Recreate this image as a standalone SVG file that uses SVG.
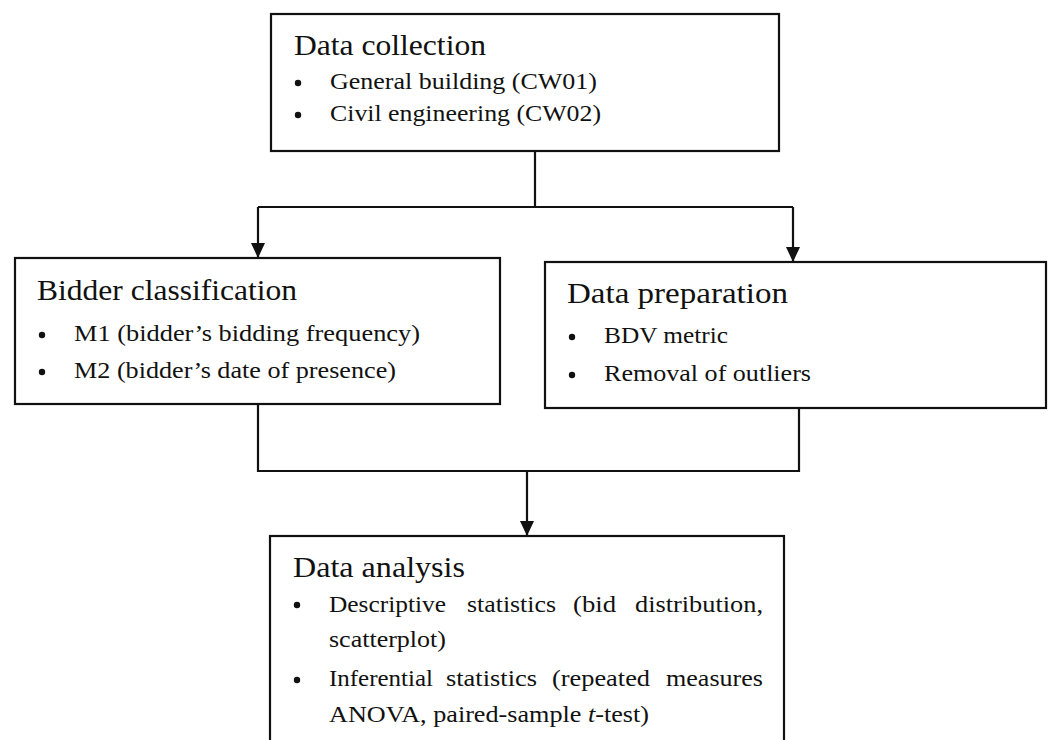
<svg xmlns="http://www.w3.org/2000/svg" width="1051" height="740" viewBox="0 0 1051 740">
<style>
.box{fill:#fff;stroke:#111;stroke-width:2.2}
.ln{fill:none;stroke:#111;stroke-width:2.2}
.t{font-family:"Liberation Serif","Times New Roman",serif;font-size:30px;fill:#111}
.i{font-family:"Liberation Serif","Times New Roman",serif;font-size:22.5px;fill:#111}
.b{fill:#111}
</style>
<defs>
<marker id="ah" markerUnits="userSpaceOnUse" markerWidth="16" markerHeight="14" refX="15" refY="7" orient="auto">
<path d="M0,0 L15,7 L0,14 z" fill="#111"/>
</marker>
</defs>
<rect width="1051" height="740" fill="#fff"/>
<g id="connectors">
<path class="ln" d="M535,151 V207"/>
<path class="ln" d="M258,207 H793"/>
<path class="ln" d="M258,207 V258" marker-end="url(#ah)"/>
<path class="ln" d="M793,207 V262" marker-end="url(#ah)"/>
<path class="ln" d="M258,404 V471 H799 V408"/>
<path class="ln" d="M527,471 V536" marker-end="url(#ah)"/>
</g>
<g id="data-collection">
<rect class="box" x="271" y="14" width="508" height="137"/>
<text class="t" x="294" y="55" textLength="192" lengthAdjust="spacingAndGlyphs">Data collection</text>
<circle class="b" cx="298" cy="83" r="3.2"/>
<text class="i" x="330" y="89" textLength="267" lengthAdjust="spacingAndGlyphs">General building (CW01)</text>
<circle class="b" cx="298" cy="115" r="3.2"/>
<text class="i" x="330" y="121" textLength="271" lengthAdjust="spacingAndGlyphs">Civil engineering (CW02)</text>
</g>
<g id="bidder-classification">
<rect class="box" x="15" y="258" width="485" height="146"/>
<text class="t" x="37" y="300" textLength="260" lengthAdjust="spacingAndGlyphs">Bidder classification</text>
<circle class="b" cx="42" cy="335" r="3.2"/>
<text class="i" x="74" y="341" textLength="346" lengthAdjust="spacingAndGlyphs">M1 (bidder’s bidding frequency)</text>
<circle class="b" cx="42" cy="372" r="3.2"/>
<text class="i" x="74" y="378" textLength="322" lengthAdjust="spacingAndGlyphs">M2 (bidder’s date of presence)</text>
</g>
<g id="data-preparation">
<rect class="box" x="545" y="262" width="501" height="146"/>
<text class="t" x="567" y="303" textLength="221" lengthAdjust="spacingAndGlyphs">Data preparation</text>
<circle class="b" cx="572" cy="337" r="3.2"/>
<text class="i" x="604" y="343" textLength="124" lengthAdjust="spacingAndGlyphs">BDV metric</text>
<circle class="b" cx="572" cy="375" r="3.2"/>
<text class="i" x="604" y="381" textLength="207" lengthAdjust="spacingAndGlyphs">Removal of outliers</text>
</g>
<g id="data-analysis">
<rect class="box" x="270" y="536" width="514" height="240"/>
<text class="t" x="293" y="577" textLength="172" lengthAdjust="spacingAndGlyphs">Data analysis</text>
<circle class="b" cx="297" cy="605" r="3.2"/>
<text class="i" x="329" y="612" textLength="117" lengthAdjust="spacingAndGlyphs">Descriptive</text>
<text class="i" x="467" y="612" textLength="89" lengthAdjust="spacingAndGlyphs">statistics</text>
<text class="i" x="573" y="612" textLength="43" lengthAdjust="spacingAndGlyphs">(bid</text>
<text class="i" x="635" y="612" textLength="128" lengthAdjust="spacingAndGlyphs">distribution,</text>
<text class="i" x="329" y="647" textLength="117" lengthAdjust="spacingAndGlyphs">scatterplot)</text>
<circle class="b" cx="297" cy="680" r="3.2"/>
<text class="i" x="329" y="686" textLength="104" lengthAdjust="spacingAndGlyphs">Inferential</text>
<text class="i" x="446" y="686" textLength="91" lengthAdjust="spacingAndGlyphs">statistics</text>
<text class="i" x="552" y="686" textLength="98" lengthAdjust="spacingAndGlyphs">(repeated</text>
<text class="i" x="666" y="686" textLength="97" lengthAdjust="spacingAndGlyphs">measures</text>
<text class="i" x="329" y="722" textLength="320" lengthAdjust="spacingAndGlyphs">ANOVA, paired-sample <tspan font-style="italic">t</tspan>-test)</text>
</g>
</svg>
